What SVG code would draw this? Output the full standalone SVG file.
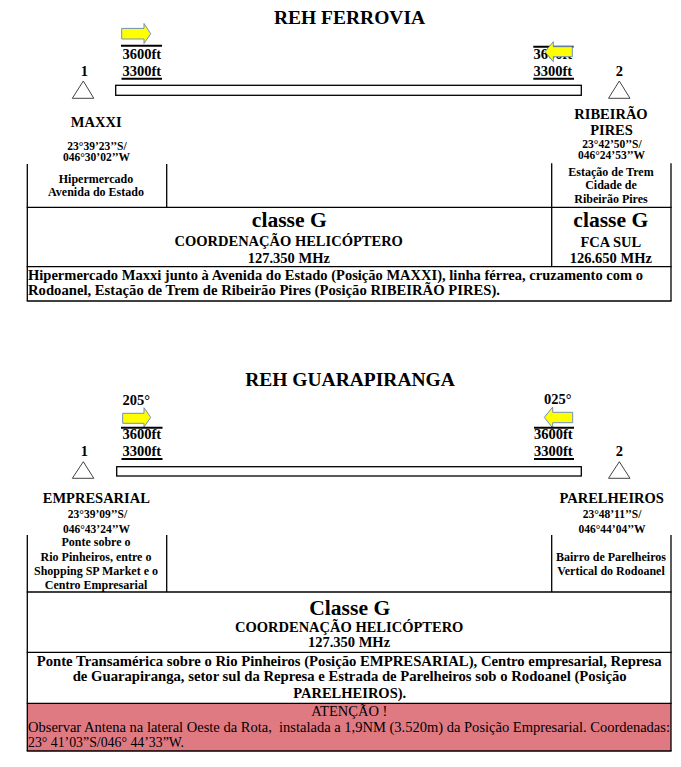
<svg xmlns="http://www.w3.org/2000/svg" width="681" height="767" viewBox="0 0 681 767">
<style>
.t{font-family:"Liberation Serif","Times New Roman",serif;font-weight:bold;fill:#000}
.m{font-size:14.5px}
.n{font-size:14px}
.s{font-size:12px}
.c{font-size:11.5px}
.big{font-size:21.6px}
.ttl{font-size:19.5px}
.mid{text-anchor:middle}
.reg{font-weight:normal}
.ln{stroke:#000;stroke-width:1.3;fill:none}
.bar{stroke:#000;stroke-width:2;fill:none}
.tri{fill:#fff;stroke:#444;stroke-width:1}
.arr{fill:#ffff00;stroke:#6f8fbf;stroke-width:1}
.rwy{fill:#fff;stroke:#000;stroke-width:1.3}
</style>
<rect width="681" height="767" fill="#fff"/>

<!-- ============ REH FERROVIA ============ -->
<g id="ferrovia-title"><text class="t ttl mid" x="349.5" y="23.5">REH FERROVIA</text></g>

<g id="ferrovia-alt-left">
<line class="bar" x1="121" y1="45.7" x2="162" y2="45.7"/>
<text class="t m" x="122.5" y="59.3">3600ft</text>
<text class="t m" x="122.5" y="76">3300ft</text>
<line class="bar" x1="121.5" y1="78.8" x2="162" y2="78.8"/>
<polygon class="arr" points="121.7,28.4 144,28.4 144,23.5 150.7,33.7 144,43.5 144,39 121.7,39"/>
</g>

<g id="ferrovia-alt-right">
<line class="bar" x1="533.3" y1="46.7" x2="573.5" y2="46.7"/>
<text class="t m" x="533.5" y="59.3">3600ft</text>
<text class="t m" x="533.5" y="76">3300ft</text>
<line class="bar" x1="533.3" y1="78.8" x2="574" y2="78.8"/>
<polygon class="arr" points="572.3,46.7 553.3,46.7 553.3,41.7 545,51.7 553.3,61.7 553.3,56.7 572.3,56.7"/>
</g>

<g id="ferrovia-connectors">
<rect class="rwy" x="115.7" y="85.3" width="465.6" height="10"/>
</g>

<g id="ferrovia-maxxi">
<text class="t m mid" x="84.3" y="76">1</text>
<polygon class="tri" points="83.3,81 72.3,98.3 93.8,98.3"/>
<text class="t m mid" x="96.2" y="127.3">MAXXI</text>
<text class="t c mid" x="97" y="149.7">23°39’23’’S/</text>
<text class="t c mid" x="96.5" y="161">046°30’02’’W</text>
</g>

<g id="ferrovia-ribeirao">
<text class="t m mid" x="619.3" y="76">2</text>
<polygon class="tri" points="619.3,81 608.5,98.3 630,98.3"/>
<text class="t m mid" x="611" y="119.3">RIBEIRÃO</text>
<text class="t m mid" x="611.5" y="135">PIRES</text>
<text class="t c mid" x="612" y="147.7">23°42’50’’S/</text>
<text class="t c mid" x="611.5" y="158.7">046°24’53’’W</text>
</g>

<g id="ferrovia-table">
<line class="ln" x1="27.3" y1="164" x2="27.3" y2="301"/>
<line class="ln" x1="671" y1="163.3" x2="671" y2="301"/>
<line class="ln" x1="166.7" y1="164" x2="166.7" y2="207.3"/>
<line class="ln" x1="551.7" y1="163.3" x2="551.7" y2="266.7"/>
<line class="ln" x1="26.7" y1="207.3" x2="671.6" y2="207.3"/>
<line class="ln" x1="26.7" y1="266.7" x2="671.6" y2="266.7"/>
<line class="ln" x1="26.7" y1="301" x2="671.6" y2="301"/>
<text class="t s mid" x="96" y="182.7">Hipermercado</text>
<text class="t s mid" x="96" y="196">Avenida do Estado</text>
<text class="t s mid" x="611" y="176">Estação de Trem</text>
<text class="t s mid" x="611" y="189.3">Cidade de</text>
<text class="t s mid" x="611" y="203.3">Ribeirão Pires</text>
<text class="t big mid" x="289.3" y="226.7">classe G</text>
<text class="t m mid" x="288.7" y="246">COORDENAÇÃO HELICÓPTERO</text>
<text class="t m mid" x="288.8" y="263">127.350 MHz</text>
<text class="t big mid" x="610.8" y="226.7">classe G</text>
<text class="t m mid" x="610.8" y="246.7">FCA SUL</text>
<text class="t m mid" x="610.8" y="262.7">126.650 MHz</text>
<text class="t m" x="28" y="280.3" textLength="615" lengthAdjust="spacingAndGlyphs">Hipermercado Maxxi junto à Avenida do Estado (Posição MAXXI), linha férrea, cruzamento com o</text>
<text class="t m" x="28" y="295.3" textLength="472" lengthAdjust="spacingAndGlyphs">Rodoanel, Estação de Trem de Ribeirão Pires (Posição RIBEIRÃO PIRES).</text>
</g>

<!-- ============ REH GUARAPIRANGA ============ -->
<g id="guarapiranga-title"><text class="t ttl mid" x="350" y="386">REH GUARAPIRANGA</text></g>

<g id="guarapiranga-alt-left">
<text class="t m" x="122.5" y="404.5">205°</text>
<polygon class="arr" points="122.7,413.3 144,413.3 144,407.7 150.7,417.4 144,427 144,423.3 122.7,423.3"/>
<line class="bar" x1="121" y1="427.7" x2="162.5" y2="427.7"/>
<text class="t m" x="122.5" y="439.3">3600ft</text>
<text class="t m" x="122.5" y="456">3300ft</text>
<line class="bar" x1="121.5" y1="459" x2="162.5" y2="459"/>
</g>

<g id="guarapiranga-alt-right">
<text class="t m" x="544" y="404">025°</text>
<polygon class="arr" points="572.7,412.3 552.7,412.3 552.7,407 544.3,417.4 552.7,428 552.7,422.7 572.7,422.7"/>
<line class="bar" x1="534" y1="427.7" x2="574" y2="427.7"/>
<text class="t m" x="534" y="439.3">3600ft</text>
<text class="t m" x="534" y="456">3300ft</text>
<line class="bar" x1="534" y1="459" x2="574" y2="459"/>
</g>

<g id="guarapiranga-connectors">
<rect class="rwy" x="116.7" y="466.7" width="464.6" height="9.3"/>
</g>

<g id="guarapiranga-empresarial">
<text class="t m mid" x="84.3" y="456">1</text>
<polygon class="tri" points="83.3,461.7 72.3,478.3 93.8,478.3"/>
<text class="t m mid" x="96.3" y="503.3">EMPRESARIAL</text>
<text class="t c mid" x="97.5" y="518.3">23°39’09’’S/</text>
<text class="t c mid" x="96.5" y="532.7">046°43’24’’W</text>
</g>

<g id="guarapiranga-parelheiros">
<text class="t m mid" x="619.3" y="456">2</text>
<polygon class="tri" points="619.3,461.7 608.5,478.3 630,478.3"/>
<text class="t m mid" x="611.7" y="503.3">PARELHEIROS</text>
<text class="t c mid" x="612" y="518.3">23°48’11’’S/</text>
<text class="t c mid" x="612" y="532.7">046°44’04’’W</text>
</g>

<g id="guarapiranga-table">
<rect x="27.3" y="703.3" width="643.7" height="47.7" fill="#df7a83"/>
<line class="ln" x1="27.3" y1="535" x2="27.3" y2="751"/>
<line class="ln" x1="671" y1="535" x2="671" y2="751"/>
<line class="ln" x1="166.7" y1="535" x2="166.7" y2="592"/>
<line class="ln" x1="551.7" y1="535" x2="551.7" y2="592"/>
<line class="ln" x1="26.7" y1="592" x2="671.6" y2="592"/>
<line class="ln" x1="26.7" y1="652.3" x2="671.6" y2="652.3"/>
<line class="ln" x1="26.7" y1="703.3" x2="671.6" y2="703.3"/>
<line class="ln" x1="26.7" y1="751" x2="671.6" y2="751"/>
<text class="t s mid" x="96" y="546">Ponte sobre o</text>
<text class="t s mid" x="96" y="561">Rio Pinheiros, entre o</text>
<text class="t s mid" x="96" y="575">Shopping SP Market e o</text>
<text class="t s mid" x="96" y="589.3">Centro Empresarial</text>
<text class="t s mid" x="611" y="561">Bairro de Parelheiros</text>
<text class="t s mid" x="611" y="575">Vertical do Rodoanel</text>
<text class="t big mid" x="349.7" y="615">Classe G</text>
<text class="t m mid" x="349.2" y="631.7">COORDENAÇÃO HELICÓPTERO</text>
<text class="t m mid" x="349" y="647.3">127.350 MHz</text>
<text class="t m mid" x="349.2" y="666" textLength="625" lengthAdjust="spacingAndGlyphs">Ponte Transamérica sobre o Rio Pinheiros (Posição EMPRESARIAL), Centro empresarial, Represa</text>
<text class="t m mid" x="349.7" y="681" textLength="554" lengthAdjust="spacingAndGlyphs">de Guarapiranga, setor sul da Represa e Estrada de Parelheiros sob o Rodoanel (Posição</text>
<text class="t m mid" x="349.7" y="697.5">PARELHEIROS).</text>
<text class="t m mid reg" x="349.3" y="716.3">ATENÇÃO !</text>
<text class="t n reg" x="28" y="732" textLength="642" lengthAdjust="spacingAndGlyphs">Observar Antena na lateral Oeste da Rota,&#160; instalada a 1,9NM (3.520m) da Posição Empresarial. Coordenadas:</text>
<text class="t n reg" x="28" y="747.3" textLength="156" lengthAdjust="spacingAndGlyphs">23° 41’03”S/046° 44’33”W.</text>
</g>
</svg>
